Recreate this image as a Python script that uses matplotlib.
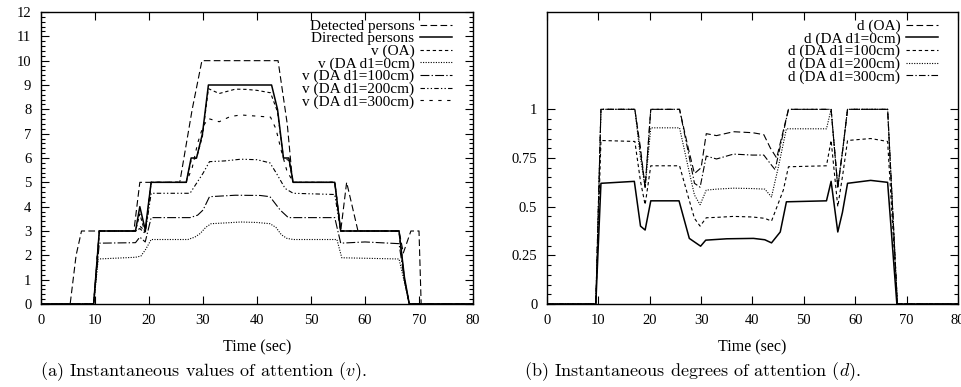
import numpy as np
import matplotlib
matplotlib.use("Agg")
import matplotlib.pyplot as plt
from matplotlib.ticker import FixedLocator, MultipleLocator

plt.rcParams['font.family'] = ['Liberation Serif', 'DejaVu Serif']
plt.rcParams['mathtext.fontset'] = 'cm'

# ---- (a) instantaneous values of attention ----
t_det = [0, 5.4, 6.5, 7.5, 17.2, 18.3, 25.7, 28, 29.8, 43.9, 45.6, 46.6, 54.4, 55.5, 56.6, 58.7, 66.3, 67.1, 68.5, 70, 70.4, 80]
v_det = [0, 0, 2, 3, 3, 5, 5, 8, 10, 10, 7.4, 5, 5, 3, 5, 3, 3, 2.1, 3, 3, 0, 0]

t_dir = [0, 9.75, 10.8, 17.5, 18.3, 19.3, 20.4, 26.9, 27.8, 28.8, 29.9, 31, 42.7, 43.8, 44.9, 45.9, 46.7, 54.4, 55.5, 66.3, 67.3, 68.2, 80]
v_dir = [0, 0, 3, 3, 4, 3.05, 5, 5, 6, 6, 7, 9, 9, 8, 6, 6, 5, 5, 3, 3, 1.1, 0, 0]

t_oa = [0, 9.75, 10.8, 17.5, 18.3, 19.3, 20.4, 26.9, 27.8, 28.8, 29.9, 31, 33, 36, 38, 40, 42.5, 43.8, 44.9, 45.9, 46.7, 54.4, 55.5, 66.3, 67.3, 68.2, 80]
v_oa = [0, 0, 3, 3, 3.7, 2.9, 5, 5, 5.9, 6.0, 6.9, 8.85, 8.65, 8.83, 8.82, 8.78, 8.68, 7.9, 6.0, 5.9, 5, 5, 3, 3, 1.0, 0, 0]

t_d0 = [0, 9.75, 10.6, 17.5, 18.5, 19.4, 20.4, 27.2, 28.5, 29.5, 30.5, 31.5, 34, 37, 40, 42.4, 43.5, 44.5, 45.5, 46.7, 54.8, 55.7, 66.3, 67.3, 68.2, 80]
v_d0 = [0, 0, 1.85, 1.92, 1.97, 2.25, 2.65, 2.65, 2.75, 2.9, 3.15, 3.3, 3.33, 3.37, 3.35, 3.3, 3.15, 2.85, 2.7, 2.65, 2.65, 1.9, 1.85, 0.9, 0, 0]

t_d100 = [0, 9.75, 10.8, 17.5, 18.3, 19.3, 20.4, 27.6, 29, 30, 31.2, 36, 40.6, 42.4, 44.3, 45.8, 54.4, 55.5, 60, 66.3, 67.3, 68.2, 80]
v_d100 = [0, 0, 2.5, 2.52, 2.75, 2.55, 3.55, 3.55, 3.65, 3.86, 4.41, 4.47, 4.46, 4.41, 3.86, 3.55, 3.55, 2.5, 2.55, 2.48, 1.0, 0, 0]

t_d200 = [0, 9.75, 10.8, 17.5, 18.3, 19.3, 20.4, 27.6, 30, 31.2, 34, 37, 40, 42.4, 43.6, 45.2, 46.7, 54.4, 55.5, 66.3, 67.3, 68.2, 80]
v_d200 = [0, 0, 3, 3, 3.1, 2.9, 4.55, 4.55, 5.37, 5.85, 5.88, 5.95, 5.93, 5.8, 5.37, 4.75, 4.55, 4.5, 3, 3, 1, 0, 0]

t_d300 = [0, 9.75, 10.8, 17.5, 18.3, 19.3, 20.4, 26.9, 28, 29, 30, 31, 33, 35, 37, 40, 42.5, 43.5, 44.5, 45.5, 46.7, 54.4, 55.5, 66.3, 67.3, 68.2, 80]
v_d300 = [0, 0, 3, 3, 3.2, 3, 5, 5, 5.6, 6.6, 7.3, 7.62, 7.49, 7.7, 7.77, 7.72, 7.68, 7.2, 6.3, 5.5, 5, 5, 3, 3, 1, 0, 0]

# ---- (b) instantaneous degrees of attention ----
tb_oa = [0, 9.5, 10.5, 17.1, 18.2, 19.1, 20.2, 25.8, 27.5, 28.7, 30, 31, 33, 36.3, 40, 42.2, 43.5, 44.7, 47, 54.4, 55.3, 56.6, 57.6, 58.5, 66.3, 68.2, 80]
db_oa = [0, 0, 1, 1, 0.8, 0.6, 1, 1, 0.8, 0.67, 0.7, 0.875, 0.865, 0.885, 0.88, 0.87, 0.8, 0.75, 1, 1, 1, 0.6, 0.8, 1, 1, 0, 0]

tb_d0 = [0, 9.5, 10.5, 17, 18.2, 19.1, 20.2, 25.7, 27.7, 29.9, 30.9, 35, 40.2, 42.4, 43.7, 45.4, 46.6, 54.4, 55.3, 56.6, 57.5, 58.5, 63, 66.3, 68.1, 80]
db_d0 = [0, 0, 0.62, 0.63, 0.4, 0.38, 0.53, 0.53, 0.337, 0.297, 0.328, 0.335, 0.337, 0.33, 0.314, 0.37, 0.525, 0.53, 0.63, 0.37, 0.47, 0.62, 0.635, 0.625, 0, 0]

tb_d100 = [0, 9.5, 10.5, 17.1, 18.2, 19.1, 20.2, 25.8, 27.5, 28.7, 29.8, 31, 33, 36.3, 40, 42.4, 43.7, 46, 47, 54.4, 55.3, 56.6, 57.6, 58.5, 63, 66.3, 68.2, 80]
db_d100 = [0, 0, 0.84, 0.835, 0.63, 0.51, 0.71, 0.71, 0.55, 0.44, 0.4, 0.443, 0.445, 0.45, 0.447, 0.44, 0.426, 0.585, 0.705, 0.71, 0.84, 0.5, 0.67, 0.84, 0.85, 0.835, 0, 0]

tb_d200 = [0, 9.5, 10.5, 17.1, 18.2, 19.1, 20.2, 25.8, 27.5, 28.7, 29.8, 31, 33, 36.3, 40, 42.4, 43.7, 45, 46.6, 54.4, 55.3, 56.6, 57.6, 58.5, 66.3, 68.2, 80]
db_d200 = [0, 0, 1, 1, 0.75, 0.6, 0.905, 0.905, 0.7, 0.56, 0.51, 0.585, 0.59, 0.595, 0.593, 0.59, 0.55, 0.7, 0.9, 0.9, 1, 0.6, 0.8, 1, 1, 0, 0]

tb_d300 = [0, 9.5, 10.5, 17.1, 18.2, 19.1, 20.2, 25.8, 27.5, 28.7, 29.8, 31, 33, 36.3, 40, 42.2, 43.5, 44.4, 47, 54.4, 55.3, 56.6, 57.6, 58.5, 66.3, 68.2, 80]
db_d300 = [0, 0, 1, 1, 0.78, 0.6, 1, 1, 0.78, 0.62, 0.6, 0.76, 0.745, 0.77, 0.765, 0.765, 0.72, 0.69, 1, 1, 1, 0.6, 0.8, 1, 1, 0, 0]

lw = 0.8
fig = plt.figure(figsize=(9.62, 3.87), dpi=100)
ax1 = fig.add_axes([41/962, 1-304/387, 432/962, 292/387])
ax2 = fig.add_axes([547/962, 1-304/387, 411/962, 292/387])

ax1.plot(t_det, v_det, 'k', lw=lw, ls=(0, (6, 3)), label='Detected persons')
ax1.plot(t_dir, v_dir, 'k', lw=1.1, ls='-', label='Directed persons')
ax1.plot(t_oa, v_oa, 'k', lw=lw, ls=(0, (3, 2.5)), label='v (OA)')
ax1.plot(t_d0, v_d0, 'k', lw=lw, ls=(0, (1, 1.3)), label='v (DA d1=0cm)')
ax1.plot(t_d100, v_d100, 'k', lw=lw, ls=(0, (8, 2, 1.2, 2)), label='v (DA d1=100cm)')
ax1.plot(t_d200, v_d200, 'k', lw=lw, ls=(0, (4, 2, 1.2, 2, 1.2, 2)), label='v (DA d1=200cm)')
ax1.plot(t_d300, v_d300, 'k', lw=lw, ls=(0, (3, 5)), label='v (DA d1=300cm)')

ax2.plot(tb_oa, db_oa, 'k', lw=lw, ls=(0, (6, 3)), label='d (OA)')
ax2.plot(tb_d0, db_d0, 'k', lw=1.1, ls='-', label='d (DA d1=0cm)')
ax2.plot(tb_d100, db_d100, 'k', lw=lw, ls=(0, (3, 2.5)), label='d (DA d1=100cm)')
ax2.plot(tb_d200, db_d200, 'k', lw=lw, ls=(0, (1, 1.3)), label='d (DA d1=200cm)')
ax2.plot(tb_d300, db_d300, 'k', lw=lw, ls=(0, (6, 2, 1.2, 2)), label='d (DA d1=300cm)')

ax1.set_xlim(0, 80)
ax1.set_ylim(0, 12)
ax1.xaxis.set_major_locator(MultipleLocator(10))
ax1.yaxis.set_major_locator(MultipleLocator(1))
ax1.yaxis.set_minor_locator(MultipleLocator(0.2))

ax2.set_xlim(0, 80)
ax2.set_ylim(0, 1.5)
ax2.xaxis.set_major_locator(MultipleLocator(10))
ax2.set_yticks([0, 0.25, 0.5, 0.75, 1])
ax2.set_yticklabels(['0', '0.25', '0.5', '0.75', '1'])
ax2.yaxis.set_minor_locator(FixedLocator(np.arange(0, 1.001, 0.05)))

for ax in (ax1, ax2):
    ax.tick_params(which='both', direction='in', top=True, right=True, labelsize=10.5, width=0.8)
    ax.tick_params(which='major', length=6, pad=7)
    ax.tick_params(which='minor', length=3)
    ax.xaxis.set_tick_params(which='minor', bottom=False, top=False)
    for s in ax.spines.values():
        s.set_linewidth(1.0)
    ax.set_xlabel('Time (sec)', fontsize=11.5, labelpad=9)
    ax.legend(loc='upper right', bbox_to_anchor=(0.951, 0.975), frameon=False,
              markerfirst=False, fontsize=11, handlelength=2.1, handletextpad=0.35,
              labelspacing=-0.08, borderpad=0, borderaxespad=0)

fig.text(40/962, 1-372/387, '(a) Instantaneous values of attention ($v$).',
         family='cmr10', fontsize=13, ha='left', va='center')
fig.text(524/962, 1-372/387, '(b) Instantaneous degrees of attention ($d$).',
         family='cmr10', fontsize=13, ha='left', va='center')

fig.savefig('out.png', dpi=100)
